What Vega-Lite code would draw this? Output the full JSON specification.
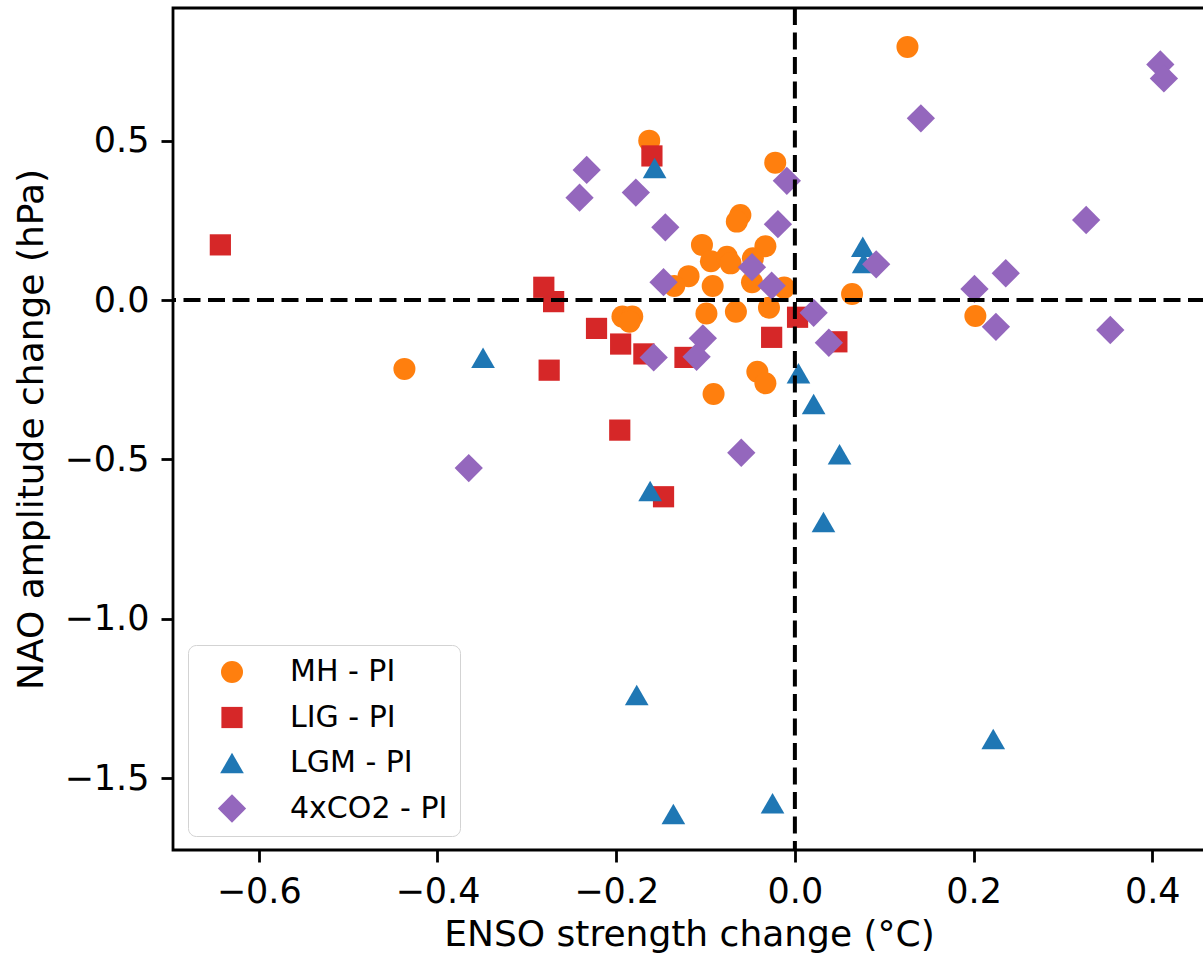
{
  "$schema": "https://vega.github.io/schema/vega-lite/v6.json",
  "width": 1032,
  "height": 842,
  "autosize": {"type": "none"},
  "padding": {"left": 173, "top": 8, "right": 0, "bottom": 110},
  "config": {
    "font": "DejaVu Sans",
    "view": {"stroke": "black", "strokeWidth": 2.8},
    "axis": {
      "domain": false,
      "grid": false,
      "tickColor": "black",
      "tickWidth": 2.8,
      "tickSize": 12,
      "labelPadding": 12,
      "labelFont": "DejaVu Sans",
      "labelFontSize": 35,
      "labelColor": "black",
      "titleFont": "DejaVu Sans",
      "titleFontSize": 36,
      "titleFontWeight": "normal",
      "titleColor": "black"
    }
  },
  "datasets": {
    "pts": [
      {"group": "MH - PI", "enso": 0.126, "nao": 0.794},
      {"group": "MH - PI", "enso": -0.163, "nao": 0.500},
      {"group": "MH - PI", "enso": -0.022, "nao": 0.431},
      {"group": "MH - PI", "enso": -0.061, "nao": 0.267},
      {"group": "MH - PI", "enso": -0.065, "nao": 0.246},
      {"group": "MH - PI", "enso": -0.104, "nao": 0.173},
      {"group": "MH - PI", "enso": -0.033, "nao": 0.169},
      {"group": "MH - PI", "enso": -0.094, "nao": 0.122},
      {"group": "MH - PI", "enso": -0.076, "nao": 0.136},
      {"group": "MH - PI", "enso": -0.072, "nao": 0.115},
      {"group": "MH - PI", "enso": -0.047, "nao": 0.131},
      {"group": "MH - PI", "enso": -0.119, "nao": 0.075},
      {"group": "MH - PI", "enso": -0.135, "nao": 0.044},
      {"group": "MH - PI", "enso": -0.092, "nao": 0.044},
      {"group": "MH - PI", "enso": -0.048, "nao": 0.056},
      {"group": "MH - PI", "enso": -0.012, "nao": 0.039},
      {"group": "MH - PI", "enso": -0.099, "nao": -0.042},
      {"group": "MH - PI", "enso": -0.066, "nao": -0.037},
      {"group": "MH - PI", "enso": -0.029, "nao": -0.024},
      {"group": "MH - PI", "enso": -0.193, "nao": -0.052},
      {"group": "MH - PI", "enso": -0.182, "nao": -0.052},
      {"group": "MH - PI", "enso": -0.185, "nao": -0.068},
      {"group": "MH - PI", "enso": -0.042, "nao": -0.225},
      {"group": "MH - PI", "enso": -0.033, "nao": -0.261},
      {"group": "MH - PI", "enso": -0.091, "nao": -0.295},
      {"group": "MH - PI", "enso": -0.437, "nao": -0.216},
      {"group": "MH - PI", "enso": 0.064, "nao": 0.019},
      {"group": "MH - PI", "enso": 0.202, "nao": -0.050},
      {"group": "LIG - PI", "enso": -0.643, "nao": 0.173},
      {"group": "LIG - PI", "enso": -0.160, "nao": 0.452},
      {"group": "LIG - PI", "enso": -0.281, "nao": 0.040},
      {"group": "LIG - PI", "enso": -0.270, "nao": -0.005},
      {"group": "LIG - PI", "enso": -0.222, "nao": -0.089},
      {"group": "LIG - PI", "enso": -0.275, "nao": -0.220},
      {"group": "LIG - PI", "enso": -0.195, "nao": -0.138},
      {"group": "LIG - PI", "enso": -0.169, "nao": -0.169},
      {"group": "LIG - PI", "enso": -0.123, "nao": -0.180},
      {"group": "LIG - PI", "enso": -0.026, "nao": -0.117},
      {"group": "LIG - PI", "enso": 0.003, "nao": -0.054},
      {"group": "LIG - PI", "enso": 0.047, "nao": -0.131},
      {"group": "LIG - PI", "enso": -0.196, "nao": -0.408},
      {"group": "LIG - PI", "enso": -0.147, "nao": -0.617},
      {"group": "LGM - PI", "enso": -0.157, "nao": 0.414},
      {"group": "LGM - PI", "enso": 0.076, "nao": 0.167},
      {"group": "LGM - PI", "enso": 0.077, "nao": 0.116},
      {"group": "LGM - PI", "enso": -0.349, "nao": -0.181},
      {"group": "LGM - PI", "enso": 0.004, "nao": -0.230},
      {"group": "LGM - PI", "enso": 0.021, "nao": -0.326},
      {"group": "LGM - PI", "enso": 0.050, "nao": -0.484},
      {"group": "LGM - PI", "enso": 0.032, "nao": -0.696},
      {"group": "LGM - PI", "enso": -0.162, "nao": -0.599},
      {"group": "LGM - PI", "enso": -0.177, "nao": -1.239},
      {"group": "LGM - PI", "enso": -0.136, "nao": -1.612},
      {"group": "LGM - PI", "enso": -0.025, "nao": -1.578},
      {"group": "LGM - PI", "enso": 0.222, "nao": -1.377},
      {"group": "4xCO2 - PI", "enso": -0.233, "nao": 0.408},
      {"group": "4xCO2 - PI", "enso": -0.241, "nao": 0.321},
      {"group": "4xCO2 - PI", "enso": -0.178, "nao": 0.337},
      {"group": "4xCO2 - PI", "enso": -0.145, "nao": 0.228},
      {"group": "4xCO2 - PI", "enso": -0.009, "nao": 0.374},
      {"group": "4xCO2 - PI", "enso": -0.019, "nao": 0.238},
      {"group": "4xCO2 - PI", "enso": -0.048, "nao": 0.103},
      {"group": "4xCO2 - PI", "enso": -0.147, "nao": 0.056},
      {"group": "4xCO2 - PI", "enso": -0.026, "nao": 0.045},
      {"group": "4xCO2 - PI", "enso": 0.021, "nao": -0.040},
      {"group": "4xCO2 - PI", "enso": 0.038, "nao": -0.134},
      {"group": "4xCO2 - PI", "enso": -0.103, "nao": -0.120},
      {"group": "4xCO2 - PI", "enso": -0.110, "nao": -0.178},
      {"group": "4xCO2 - PI", "enso": -0.158, "nao": -0.180},
      {"group": "4xCO2 - PI", "enso": -0.060, "nao": -0.479},
      {"group": "4xCO2 - PI", "enso": -0.365, "nao": -0.527},
      {"group": "4xCO2 - PI", "enso": 0.141, "nao": 0.570},
      {"group": "4xCO2 - PI", "enso": 0.409, "nao": 0.739},
      {"group": "4xCO2 - PI", "enso": 0.413, "nao": 0.695},
      {"group": "4xCO2 - PI", "enso": 0.326, "nao": 0.251},
      {"group": "4xCO2 - PI", "enso": 0.091, "nao": 0.112},
      {"group": "4xCO2 - PI", "enso": 0.236, "nao": 0.084},
      {"group": "4xCO2 - PI", "enso": 0.201, "nao": 0.035},
      {"group": "4xCO2 - PI", "enso": 0.225, "nao": -0.084},
      {"group": "4xCO2 - PI", "enso": 0.353, "nao": -0.094}
    ]
  },
  "layer": [
    {
      "data": {"name": "pts"},
      "mark": {"type": "point", "filled": true, "opacity": 1, "strokeWidth": 0},
      "encoding": {
        "x": {
          "field": "enso", "type": "quantitative",
          "title": "ENSO strength change (°C)",
          "scale": {"domain": [-0.696, 0.459], "nice": false, "zero": false},
          "axis": {"values": [-0.6, -0.4, -0.2, 0, 0.2, 0.4], "format": ".1f", "titlePadding": 8}
        },
        "y": {
          "field": "nao", "type": "quantitative",
          "title": "NAO amplitude change (hPa)",
          "scale": {"domain": [-1.725, 0.916], "nice": false, "zero": false},
          "axis": {"values": [-1.5, -1, -0.5, 0, 0.5], "format": ".1f", "titlePadding": 14}
        },
        "color": {
          "field": "group", "type": "nominal",
          "scale": {"domain": ["MH - PI", "LIG - PI", "LGM - PI", "4xCO2 - PI"], "range": ["#ff7f0e", "#d62728", "#1f77b4", "#9467bd"]},
          "legend": {
            "title": null,
            "orient": "none",
            "legendX": 15,
            "legendY": 637,
            "padding": 12,
            "fillColor": "rgba(255,255,255,0.8)",
            "strokeColor": "#d3d3d3",
            "cornerRadius": 8,
            "labelFont": "DejaVu Sans",
            "labelFontSize": 30,
            "labelColor": "black",
            "symbolOffset": 17,
            "labelOffset": 43,
            "rowPadding": 15.5,
            "symbolStrokeWidth": 0,
            "symbolOpacity": 1
          }
        },
        "shape": {
          "field": "group", "type": "nominal",
          "scale": {"domain": ["MH - PI", "LIG - PI", "LGM - PI", "4xCO2 - PI"], "range": ["circle", "square", "triangle-up", "diamond"]}
        },
        "size": {
          "field": "group", "type": "nominal",
          "scale": {"type": "ordinal", "domain": ["MH - PI", "LIG - PI", "LGM - PI", "4xCO2 - PI"], "range": [484, 450, 560, 800]}
        }
      }
    },
    {
      "data": {"values": [{}]},
      "mark": {"type": "rule", "color": "black", "strokeWidth": 4, "strokeDash": [17, 7.5]},
      "encoding": {
        "x": {"datum": 0, "type": "quantitative", "title": "ENSO strength change (°C)"}
      }
    },
    {
      "data": {"values": [{}]},
      "mark": {"type": "rule", "color": "black", "strokeWidth": 4, "strokeDash": [17, 7.5]},
      "encoding": {
        "y": {"datum": 0, "type": "quantitative", "title": "NAO amplitude change (hPa)"}
      }
    }
  ]
}
